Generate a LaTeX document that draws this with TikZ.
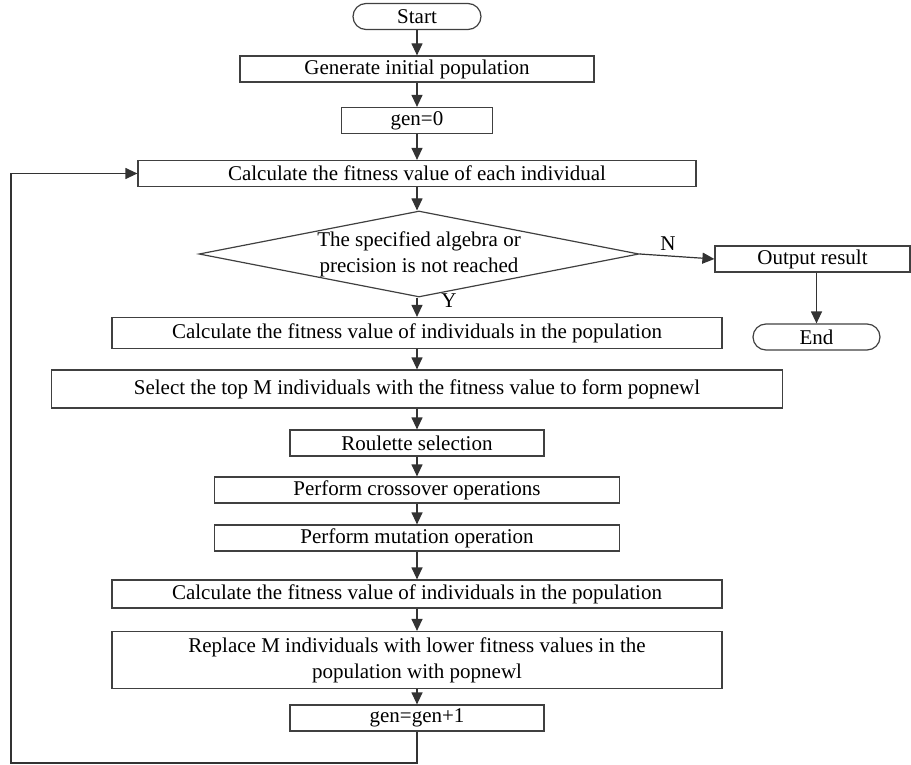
\documentclass[tikz,border=0pt]{standalone}
\usepackage{fontspec}
\setmainfont{Liberation Serif}
\usetikzlibrary{arrows.meta,shapes.geometric}
\begin{document}
\begin{tikzpicture}[>={Triangle[length=12pt,width=11pt]}, x=1pt, y=-1pt,
    font=\fontsize{21}{26}\selectfont, line width=1.2pt,
    box/.style={draw=black!75, rectangle, inner sep=0pt, minimum height=26pt},
    term/.style={draw=black!75, rectangle, rounded corners=13pt, inner sep=0pt, minimum height=26pt},
    flow/.style={->, draw=black!80}]
    \useasboundingbox (0,0) rectangle (911,765);
    % Start and initialisation
    \node[term, minimum width=128pt] (start) at (417,16.5) {Start};
    \node[box, minimum width=354pt] (init) at (417,69) {Generate initial population};
    \node[box, minimum width=151pt] (gen0) at (417,120.5) {gen=0};
    \node[box, minimum width=558pt] (fit) at (417,173.5) {Calculate the fitness value of each individual};
    % Decision
    \node[draw=black!75, diamond, aspect=5.1, inner sep=0pt, minimum width=440pt, minimum height=86pt,
          align=center] (cond) at (419,254) {The specified algebra or\\precision is not reached};
    \node[box, minimum width=195pt] (out) at (812.5,259) {Output result};
    \node[term, minimum width=127pt] (stop) at (816.5,337) {End};
    % Main loop body
    \node[box, minimum width=610pt, minimum height=31pt] (fitpop) at (417,333) {Calculate the fitness value of individuals in the population};
    \node[box, minimum width=731pt, minimum height=38pt] (select) at (417,389) {Select the top M individuals with the fitness value to form popnewl};
    \node[box, minimum width=254pt] (roul) at (417,443) {Roulette selection};
    \node[box, minimum width=405pt] (cross) at (417,490) {Perform crossover operations};
    \node[box, minimum width=405pt] (mut) at (417,538) {Perform mutation operation};
    \node[box, minimum width=610pt, minimum height=28pt] (fitpop2) at (417,594) {Calculate the fitness value of individuals in the population};
    \node[box, minimum width=610pt, minimum height=57pt, align=center] (repl) at (417,660)
        {Replace M individuals with lower fitness values in the\\population with popnewl};
    \node[box, minimum width=254pt] (gen1) at (417,718) {gen=gen+1};
    % Arrows down the main column
    \draw[flow] (start) -- (init);
    \draw[flow] (init) -- (gen0);
    \draw[flow] (gen0) -- (fit);
    \draw[flow] (fit) -- (fit.south |- cond.north);
    \draw[flow] (fit.south |- cond.south) -- (fitpop);
    \draw[flow] (fitpop) -- (select);
    \draw[flow] (select) -- (roul);
    \draw[flow] (roul) -- (cross);
    \draw[flow] (cross) -- (mut);
    \draw[flow] (mut) -- (fitpop2);
    \draw[flow] (fitpop2) -- (repl);
    \draw[flow] (repl) -- (gen1);
    % Exit branch
    \draw[flow] (cond.east) -- (out.west);
    \draw[flow] (out.south -| stop) -- (stop);
    \node (nlab) at (668,244) {N};
    \node (ylab) at (449,301) {Y};
    % Back to the fitness step
    \coordinate (c1) at (417,763);
    \coordinate (c2) at (11,763);
    \draw[flow] (gen1) -- (c1) -- (c2) -- (c2 |- fit) -- (fit.west);
\end{tikzpicture}
\end{document}
